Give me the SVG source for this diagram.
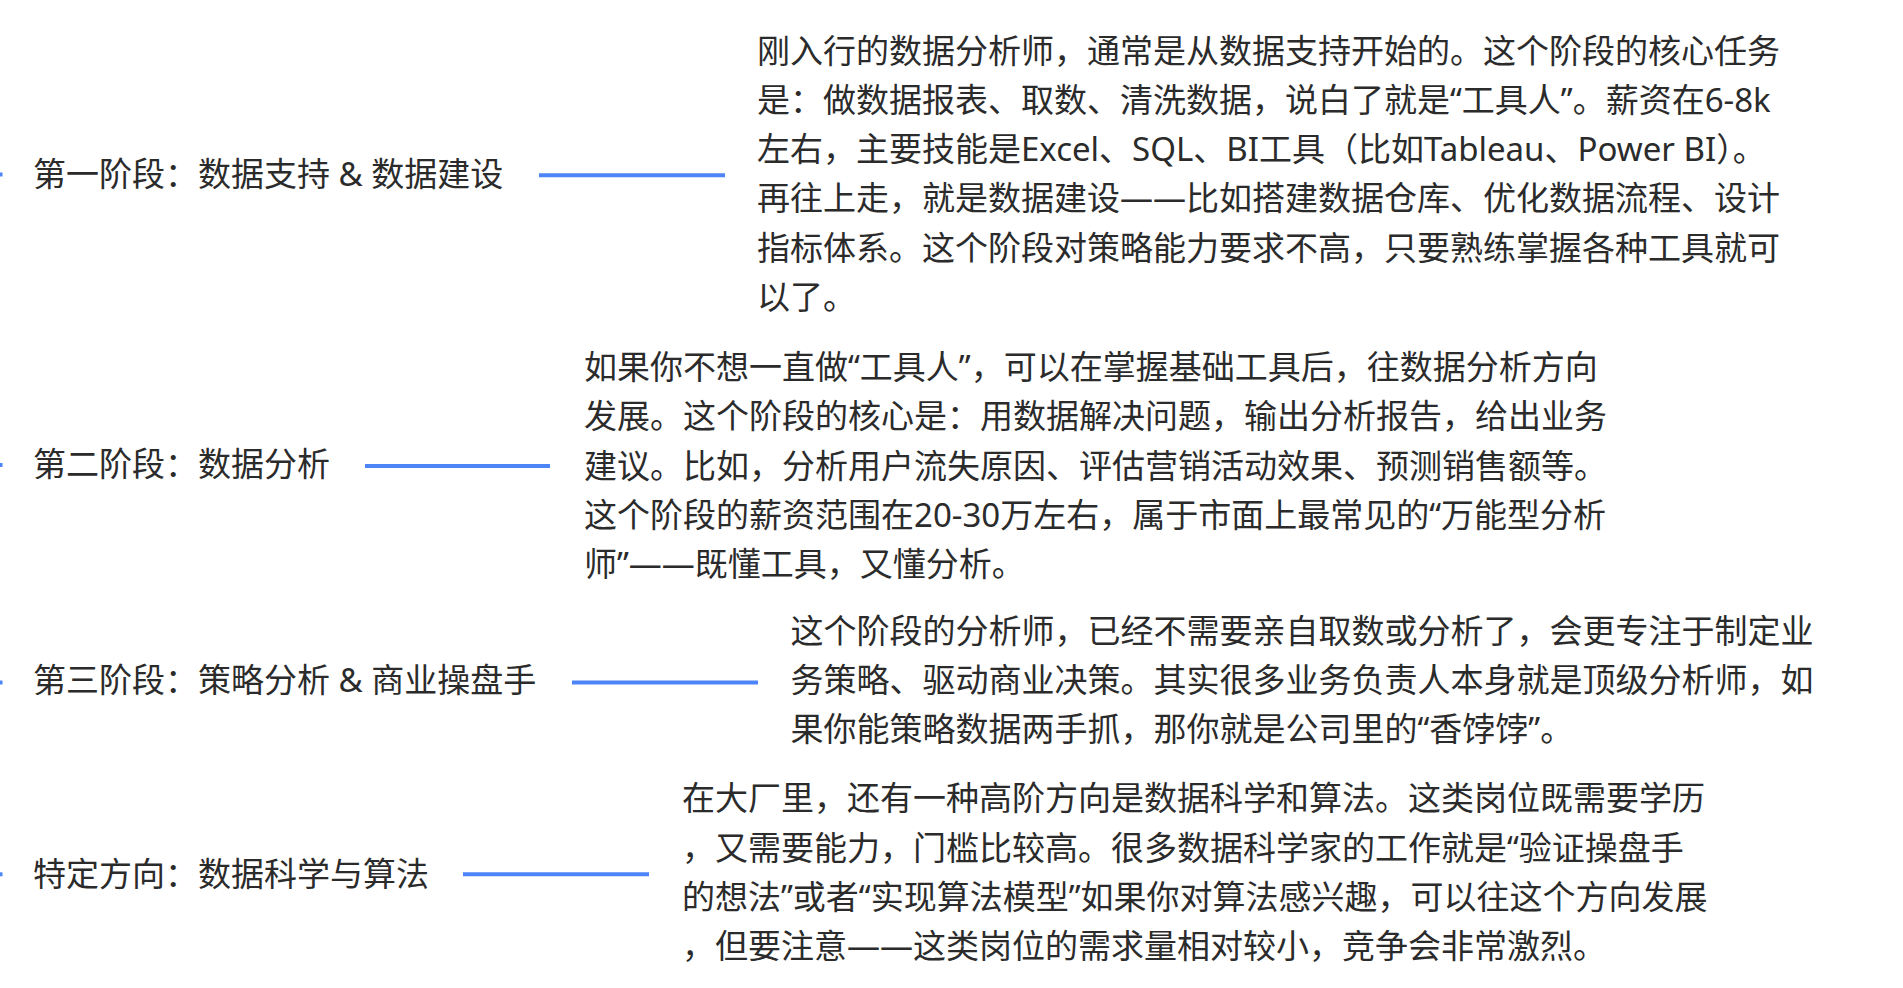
<svg xmlns="http://www.w3.org/2000/svg" width="1903" height="988" viewBox="0 0 1903 988">
<style>
  .bg { fill: #ffffff; }
  .lbl { font-family: "Noto Sans", "Noto Sans CJK SC", sans-serif; font-size: 33px; fill: #2b2b2b; }
  .txt { font-family: "Noto Sans", "Noto Sans CJK SC", sans-serif; font-size: 33px; fill: #2b2b2b; }
  .conn { stroke: #4d84f7; stroke-width: 4; fill: none; }
</style>
<rect class="bg" x="0" y="0" width="1903" height="988"/>
<g id="connectors">
  <line class="conn" x1="0" y1="174.5" x2="2.5" y2="174.5"/>
  <line class="conn" x1="539" y1="175.3" x2="725" y2="175.3"/>
  <line class="conn" x1="0" y1="465" x2="2.5" y2="465"/>
  <line class="conn" x1="365" y1="466" x2="550" y2="466"/>
  <line class="conn" x1="0" y1="682.5" x2="2.5" y2="682.5"/>
  <line class="conn" x1="572" y1="682.5" x2="758" y2="682.5"/>
  <line class="conn" x1="0" y1="874.3" x2="2.5" y2="874.3"/>
  <line class="conn" x1="463" y1="874.3" x2="649" y2="874.3"/>
</g>
<g id="node-stage1">
  <text class="lbl" x="33" y="186.3">第一阶段：数据支持 &amp; 数据建设</text>
</g>
<g id="node-stage1-desc">
  <text class="txt" x="757" y="62.8">
    <tspan x="757" y="62.8">刚入行的数据分析师，通常是从数据支持开始的。这个阶段的核心任务</tspan>
    <tspan x="757" y="112">是：做数据报表、取数、清洗数据，说白了就是“工具人”。薪资在6-8k</tspan>
    <tspan x="757" y="161.2">左右，主要技能是Excel、SQL、BI工具（比如Tableau、Power BI）。</tspan>
    <tspan x="757" y="210.4">再往上走，就是数据建设——比如搭建数据仓库、优化数据流程、设计</tspan>
    <tspan x="757" y="259.6">指标体系。这个阶段对策略能力要求不高，只要熟练掌握各种工具就可</tspan>
    <tspan x="757" y="308.8">以了。</tspan>
  </text>
</g>
<g id="node-stage2">
  <text class="lbl" x="33" y="476.3">第二阶段：数据分析</text>
</g>
<g id="node-stage2-desc">
  <text class="txt" x="584" y="379.2">
    <tspan x="584" y="379.2">如果你不想一直做“工具人”，可以在掌握基础工具后，往数据分析方向</tspan>
    <tspan x="584" y="428.4">发展。这个阶段的核心是：用数据解决问题，输出分析报告，给出业务</tspan>
    <tspan x="584" y="477.6">建议。比如，分析用户流失原因、评估营销活动效果、预测销售额等。</tspan>
    <tspan x="584" y="526.8">这个阶段的薪资范围在20-30万左右，属于市面上最常见的“万能型分析</tspan>
    <tspan x="584" y="576">师”——既懂工具，又懂分析。</tspan>
  </text>
</g>
<g id="node-stage3">
  <text class="lbl" x="33" y="692.3">第三阶段：策略分析 &amp; 商业操盘手</text>
</g>
<g id="node-stage3-desc">
  <text class="txt" x="790.5" y="642.8">
    <tspan x="790.5" y="642.8">这个阶段的分析师，已经不需要亲自取数或分析了，会更专注于制定业</tspan>
    <tspan x="790.5" y="692">务策略、驱动商业决策。其实很多业务负责人本身就是顶级分析师，如</tspan>
    <tspan x="790.5" y="741.2">果你能策略数据两手抓，那你就是公司里的“香饽饽”。</tspan>
  </text>
</g>
<g id="node-special">
  <text class="lbl" x="33" y="885.6">特定方向：数据科学与算法</text>
</g>
<g id="node-special-desc">
  <text class="txt" x="682" y="810.3">
    <tspan x="682" y="810.3">在大厂里，还有一种高阶方向是数据科学和算法。这类岗位既需要学历</tspan>
    <tspan x="682" y="859.5">，又需要能力，门槛比较高。很多数据科学家的工作就是“验证操盘手</tspan>
    <tspan x="682" y="908.7">的想法”或者“实现算法模型”如果你对算法感兴趣，可以往这个方向发展</tspan>
    <tspan x="682" y="957.9">，但要注意——这类岗位的需求量相对较小，竞争会非常激烈。</tspan>
  </text>
</g>
</svg>
